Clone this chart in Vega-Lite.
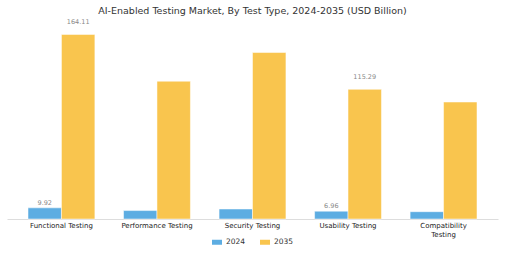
{
  "$schema": "https://vega.github.io/schema/vega-lite/v6.json",
  "autosize": "none",
  "padding": {"left": 7, "top": 26, "right": 7, "bottom": 34},
  "width": 491,
  "height": 193,
  "background": "white",
  "title": {"text": "AI-Enabled Testing Market, By Test Type, 2024-2035 (USD Billion)", "fontSize": 9.5, "fontWeight": "normal", "color": "#333333", "font": "DejaVu Sans", "offset": 4, "anchor": "middle"},
  "config": {"view": {"stroke": null}, "font": "DejaVu Sans"},
  "data": {"values": [
    {"type": "Functional Testing", "year": "2024", "value": 9.92},
    {"type": "Functional Testing", "year": "2035", "value": 164.11},
    {"type": "Performance Testing", "year": "2024", "value": 7.5},
    {"type": "Performance Testing", "year": "2035", "value": 122.5},
    {"type": "Security Testing", "year": "2024", "value": 8.9},
    {"type": "Security Testing", "year": "2035", "value": 148.0},
    {"type": "Usability Testing", "year": "2024", "value": 6.96},
    {"type": "Usability Testing", "year": "2035", "value": 115.29},
    {"type": "Compatibility Testing", "year": "2024", "value": 6.5},
    {"type": "Compatibility Testing", "year": "2035", "value": 104.0}
  ]},
  "encoding": {
    "x": {"field": "type", "type": "nominal", "sort": null,
      "scale": {"paddingInner": 0.3, "paddingOuter": 0.22},
      "axis": {"title": null, "labelAngle": 0, "ticks": false, "domainColor": "#dddddd", "labelFontSize": 7, "labelColor": "#222222", "labelPadding": 2,
        "labelExpr": "datum.label == 'Compatibility Testing' ? ['Compatibility', 'Testing'] : datum.label"}},
    "xOffset": {"field": "year", "type": "nominal"},
    "y": {"field": "value", "type": "quantitative", "scale": {"domain": [0, 171.6]}, "axis": null}
  },
  "layer": [
    {"mark": {"type": "bar", "stroke": "white", "strokeWidth": 0.5},
     "encoding": {"color": {"field": "year", "type": "nominal",
       "scale": {"domain": ["2024", "2035"], "range": ["#5DADE2", "#F9C54E"]},
       "legend": {"title": null, "orient": "none", "direction": "horizontal", "legendX": 205, "legendY": 211,
         "symbolType": "M-1,-0.5L1,-0.5L1,0.5L-1,0.5Z", "symbolSize": 100, "symbolStrokeWidth": 0,
         "labelFontSize": 7.5, "labelColor": "#333333", "columnPadding": 14}}}},
    {"transform": [{"filter": "(datum.type == 'Functional Testing' || datum.type == 'Usability Testing') && datum.year == '2035'"}],
     "mark": {"type": "text", "dy": -12, "fontSize": 6.5, "color": "#888888"},
     "encoding": {"text": {"field": "value", "type": "quantitative", "format": ".2f"}}},
    {"transform": [{"filter": "(datum.type == 'Functional Testing' || datum.type == 'Usability Testing') && datum.year == '2024'"}],
     "mark": {"type": "text", "dy": -5, "fontSize": 6.5, "color": "#888888"},
     "encoding": {"text": {"field": "value", "type": "quantitative", "format": ".2f"}}}
  ]
}
